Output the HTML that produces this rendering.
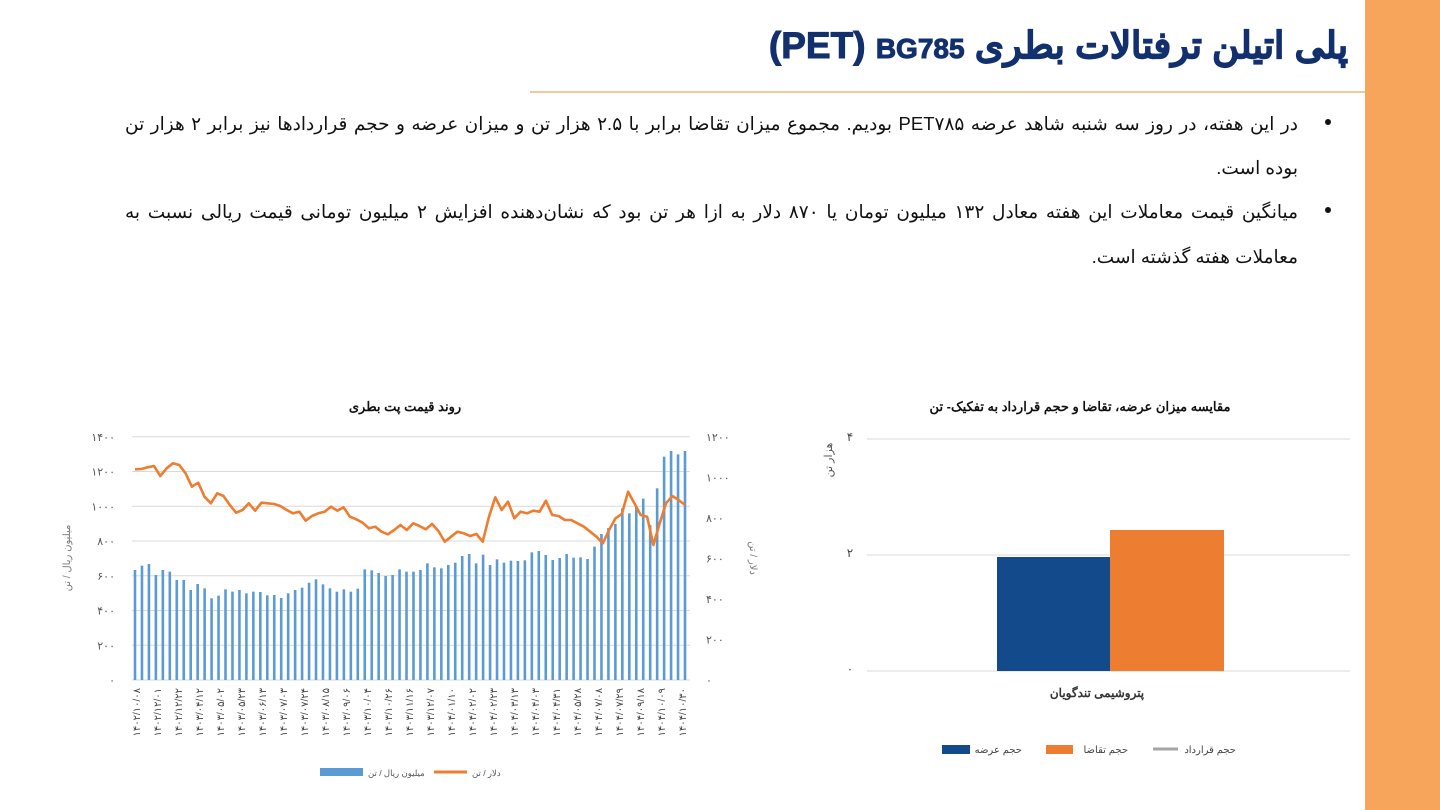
<!DOCTYPE html>
<html><head><meta charset="utf-8">
<style>
html,body{margin:0;padding:0;width:1440px;height:810px;overflow:hidden;background:#fff;font-family:"Liberation Sans","Noto Sans CJK SC",sans-serif;}
#strip{position:absolute;left:1365px;top:0;width:75px;height:810px;background:#F7A55B;}
#title{position:absolute;right:92px;top:24px;font-size:37px;font-weight:bold;color:#12306E;direction:ltr;white-space:nowrap;font-family:"Liberation Sans","Noto Sans CJK SC",sans-serif;-webkit-text-stroke:1px #12306E;}
#title .b{font-size:28px;}
#hline{position:absolute;left:530px;top:91px;width:835px;height:2px;background:#F2C89A;}
.p{position:absolute;right:142px;width:1173px;direction:rtl;text-align:right;font-size:18.5px;color:#111;line-height:44px;white-space:nowrap;}
.j{text-align:justify;text-align-last:justify;}
.dot{position:absolute;left:1325px;width:6px;height:6px;border-radius:3px;background:#111;}
svg{position:absolute;left:0;top:0;}
</style></head><body>
<div id="strip"></div>
<div id="title">(PET) <span class="b">BG785</span> پلی اتیلن ترفتالات بطری</div>
<div id="hline"></div>
<div class="dot" style="top:119px"></div>
<div class="dot" style="top:207px"></div>
<div class="p j" style="top:102px">در این هفته، در روز سه شنبه شاهد عرضه PET۷۸۵ بودیم. مجموع میزان تقاضا برابر با ۲.۵ هزار تن و میزان عرضه و حجم قراردادها نیز برابر ۲ هزار تن</div>
<div class="p" style="top:146px">بوده است.</div>
<div class="p j" style="top:190px">میانگین قیمت معاملات این هفته معادل ۱۳۲ میلیون تومان یا ۸۷۰ دلار به ازا هر تن بود که نشان‌دهنده افزایش ۲ میلیون تومانی قیمت ریالی نسبت به</div>
<div class="p" style="top:235px">معاملات هفته گذشته است.</div>
<svg id="s" width="1440" height="810" xmlns="http://www.w3.org/2000/svg"></svg>
<script>
var s=document.getElementById('s'),h='';
function fa(n){return String(n).replace(/\d/g,function(d){return '۰۱۲۳۴۵۶۷۸۹'[d];});}
h+='<text x="405" y="411" font-size="13" font-weight="bold" text-anchor="middle" fill="#111">روند قیمت پت بطری</text>';
for(var i=0;i<=7;i++){var y=680-i*34.75;h+='<line x1="132" x2="690" y1="'+y+'" y2="'+y+'" stroke="#d9d9d9" stroke-width="1"/>';
h+='<text x="115" y="'+(y+4)+'" font-size="11" fill="#555" text-anchor="end">'+fa(i*200)+'</text>';}
for(var i=0;i<=6;i++){var y=680-i*40.5;h+='<text x="706" y="'+(y+4)+'" font-size="11" fill="#555">'+fa(i*200)+'</text>';}
h+='<text transform="translate(70,558) rotate(-90)" font-size="10" fill="#777" text-anchor="middle">میلیون ریال / تن</text>';
h+='<text transform="translate(750,558) rotate(90)" font-size="10" fill="#777" text-anchor="middle">دلار / تن</text>';
var bz=[540,527,522,555,540,545,570,570,600,582,595,625,617,598,605,600,610,605,606,616,615,624,610,600,593,578,568,583,595,605,598,605,596,538,541,549,558,555,538,545,545,540,520,532,535,525,518,498,492,520,494,525,508,518,512,513,511,487,483,495,510,504,492,503,502,507,470,432,414,402,355,370,348,326,405,295,200,183,193,183];
var n=bz.length,x0=135,x1=685;
for(var i=0;i<n;i++){var x=x0+i*(x1-x0)/(n-1),y=390+bz[i]/3;h+='<rect x="'+(x-1.3)+'" y="'+y+'" width="2.6" height="'+(680-y)+'" fill="#5B9BD5"/>';}
var lz=[238,237,232,228,258,235,220,225,250,290,278,320,340,310,318,345,368,360,340,362,338,340,342,348,360,370,365,392,378,370,365,350,362,352,380,388,398,415,410,425,433,420,405,420,400,408,418,402,423,455,440,425,430,438,432,455,380,322,360,335,385,365,370,362,365,332,375,378,390,390,400,410,425,440,460,420,385,372,305,340,375,380,465,400,340,318,330,345];
var m=lz.length,pts=[];
for(var i=0;i<m;i++){pts.push((x0+i*(x1-x0)/(m-1)).toFixed(1)+','+(390+lz[i]/3).toFixed(1));}
h+='<polyline points="'+pts.join(' ')+'" fill="none" stroke="#ED7D31" stroke-width="2.6" stroke-linejoin="round"/>';
var labs=['۱۴۰۲/۱۰/۰۸','۱۴۰۲/۱۲/۰۱','۱۴۰۲/۱۲/۲۲','۱۴۰۳/۰۴/۱۲','۱۴۰۳/۰۵/۰۲','۱۴۰۳/۰۵/۲۳','۱۴۰۳/۰۶/۱۳','۱۴۰۳/۰۷/۰۳','۱۴۰۳/۰۷/۲۴','۱۴۰۳/۰۸/۱۵','۱۴۰۳/۰۹/۰۶','۱۴۰۳/۱۰/۰۴','۱۴۰۳/۱۰/۲۶','۱۴۰۳/۱۱/۱۶','۱۴۰۳/۱۲/۰۷','۱۴۰۴/۰۱/۱۰','۱۴۰۴/۰۲/۰۲','۱۴۰۴/۰۲/۲۳','۱۴۰۴/۰۳/۱۳','۱۴۰۴/۰۴/۰۳','۱۴۰۴/۰۴/۳۱','۱۴۰۴/۰۵/۲۸','۱۴۰۴/۰۷/۰۸','۱۴۰۴/۰۷/۲۹','۱۴۰۴/۰۹/۱۸','۱۴۰۴/۱۰/۰۹','۱۴۰۴/۱۰/۳۰'];
for(var i=0;i<labs.length;i++){var x=136+i*(682-136)/(labs.length-1);
h+='<text transform="translate('+(x+4)+',688) rotate(-90)" font-size="10" fill="#444" text-anchor="end">'+labs[i]+'</text>';}
h+='<rect x="320" y="768" width="43" height="8" fill="#5B9BD5"/><text x="368" y="776" font-size="8.5" fill="#555">میلیون ریال / تن</text>';
h+='<line x1="434" x2="467" y1="772" y2="772" stroke="#ED7D31" stroke-width="3"/><text x="472" y="776" font-size="8.5" fill="#555">دلار / تن</text>';
h+='<text x="1080" y="411" font-size="13" font-weight="bold" text-anchor="middle" fill="#111">مقایسه میزان عرضه، تقاضا و حجم قرارداد به تفکیک- تن</text>';
[[439,'۴'],[555,'۲'],[671,'۰']].forEach(function(a){h+='<line x1="867" x2="1350" y1="'+a[0]+'" y2="'+a[0]+'" stroke="#d9d9d9"/><text x="850" y="'+(a[0]+2)+'" font-size="12" fill="#444" text-anchor="middle">'+a[1]+'</text>';});
h+='<text transform="translate(832,460) rotate(-90)" font-size="11" fill="#555" text-anchor="middle">هزار تن</text>';
h+='<rect x="997" y="557" width="113" height="114" fill="#124A8C"/><rect x="1110" y="530" width="114" height="141" fill="#ED7D31"/>';
h+='<text x="1097" y="697" font-size="12" font-weight="bold" fill="#333" text-anchor="middle">پتروشیمی تندگویان</text>';
h+='<rect x="942" y="745" width="28" height="9" fill="#124A8C"/><text x="1022" y="753" font-size="10" fill="#444" text-anchor="end">حجم عرضه</text>';
h+='<rect x="1046" y="745" width="27" height="9" fill="#ED7D31"/><text x="1128" y="753" font-size="10" fill="#444" text-anchor="end">حجم تقاضا</text>';
h+='<line x1="1153" x2="1178" y1="749" y2="749" stroke="#A5A5A5" stroke-width="3"/><text x="1236" y="753" font-size="10" fill="#444" text-anchor="end">حجم قرارداد</text>';
s.innerHTML=h;
</script>
</body></html>
